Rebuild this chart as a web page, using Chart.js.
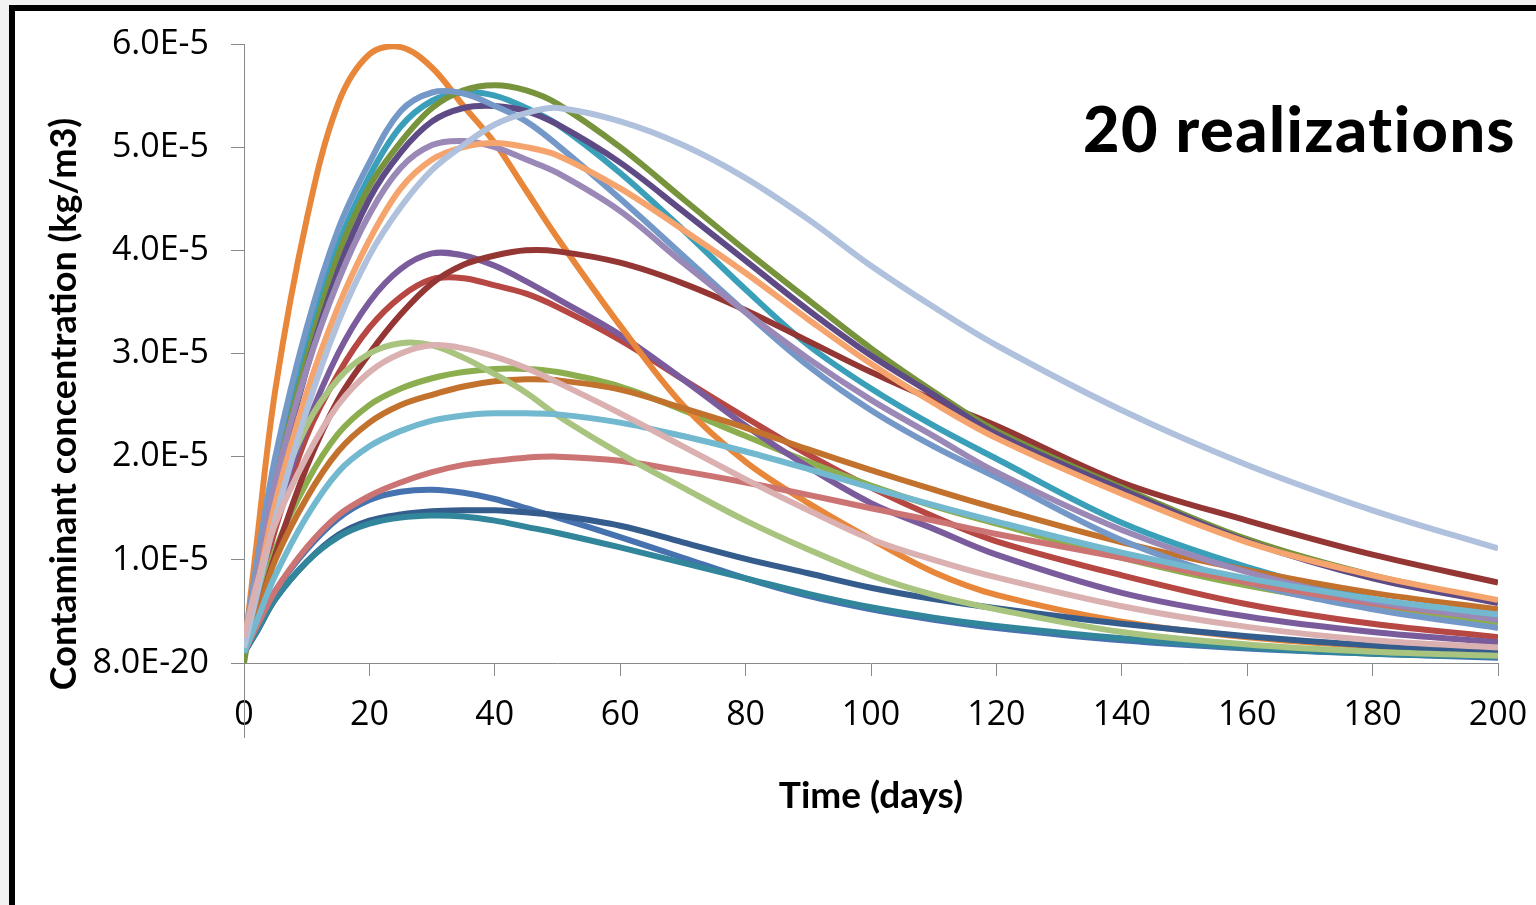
<!DOCTYPE html>
<html>

<head>
    <meta charset="utf-8">
    <title>Contaminant concentration - 20 realizations</title>
    <script src="https://cdn.jsdelivr.net/npm/chart.js"></script>
    <style>
        html, body {
            margin: 0;
            padding: 0;
        }

        body {
            width: 1536px;
            height: 905px;
            background: #f2f2f2;
            overflow: hidden;
            position: relative;
        }

        /* slide frame: thick black edge top and left, white inside */
        .frame {
            position: absolute;
            left: 9px;
            top: 5px;
            right: -20px;
            bottom: -20px;
            border-top: 6px solid #000;
            border-left: 6px solid #000;
            background: #fff;
        }

        #concChart {
            position: absolute;
            left: 0;
            top: 0;
        }
    </style>
</head>

<body>
    <div class="frame"></div>
    <canvas id="concChart" width="1536" height="905"></canvas>

    <script>
        // sample times (days) shared by every realization
        const days = [0, 2, 5, 10, 15, 20, 25, 30, 35, 40, 45, 50, 60, 70, 80, 90, 100, 110, 120, 140, 160, 180, 200];

        // concentrations in units of 1e-5 kg/m3
        const UNIT = 1e-5;
        const run01 = [0.1, 0.35, 0.7, 1.1, 1.4, 1.58, 1.66, 1.68, 1.65, 1.59, 1.5, 1.41, 1.22, 1.02, 0.82, 0.65, 0.52, 0.42, 0.34, 0.22, 0.14, 0.09, 0.05];
        const run02 = [0.15, 0.6, 1.3, 2.2, 2.8, 3.25, 3.55, 3.72, 3.73, 3.66, 3.58, 3.45, 3.13, 2.75, 2.38, 2.02, 1.7, 1.42, 1.18, 0.85, 0.57, 0.38, 0.25];
        const run03 = [0.1, 0.5, 1.1, 1.75, 2.22, 2.5, 2.66, 2.76, 2.82, 2.85, 2.85, 2.82, 2.68, 2.45, 2.2, 1.95, 1.72, 1.52, 1.35, 1.02, 0.75, 0.55, 0.39];
        const run04 = [0.15, 0.65, 1.4, 2.3, 3.0, 3.5, 3.82, 3.97, 3.95, 3.85, 3.7, 3.53, 3.18, 2.75, 2.3, 1.9, 1.55, 1.3, 1.05, 0.68, 0.45, 0.3, 0.2];
        const run05 = [0.15, 0.85, 1.85, 3.1, 4.05, 4.72, 5.2, 5.45, 5.53, 5.5, 5.38, 5.22, 4.75, 4.2, 3.62, 3.08, 2.66, 2.3, 1.98, 1.36, 0.93, 0.62, 0.42];
        const run06 = [0.1, 1.15, 2.65, 4.3, 5.42, 5.9, 5.97, 5.77, 5.4, 5.04, 4.58, 4.12, 3.27, 2.5, 1.95, 1.55, 1.2, 0.88, 0.66, 0.4, 0.25, 0.16, 0.1];
        const run07 = [0.1, 0.3, 0.62, 0.98, 1.24, 1.38, 1.44, 1.47, 1.48, 1.48, 1.46, 1.43, 1.33, 1.17, 1.01, 0.87, 0.73, 0.62, 0.53, 0.38, 0.26, 0.17, 0.11];
        const run08 = [0.1, 0.45, 1.05, 1.9, 2.55, 3.0, 3.38, 3.68, 3.86, 3.95, 4.0, 3.99, 3.88, 3.68, 3.42, 3.12, 2.82, 2.55, 2.3, 1.75, 1.38, 1.05, 0.78];
        const run09 = [0.0, 0.75, 1.75, 2.95, 3.95, 4.62, 5.05, 5.38, 5.55, 5.6, 5.55, 5.42, 5.0, 4.5, 4.0, 3.52, 3.05, 2.63, 2.25, 1.7, 1.2, 0.85, 0.6];
        const run10 = [0.1, 0.7, 1.65, 2.85, 3.8, 4.5, 4.95, 5.25, 5.38, 5.4, 5.35, 5.22, 4.85, 4.38, 3.9, 3.42, 2.98, 2.6, 2.22, 1.68, 1.18, 0.82, 0.58];
        const run11 = [0.1, 0.3, 0.62, 0.98, 1.22, 1.35, 1.41, 1.43, 1.42, 1.38, 1.32, 1.26, 1.12, 0.97, 0.82, 0.67, 0.54, 0.44, 0.36, 0.24, 0.15, 0.09, 0.06];
        const run12 = [0.1, 0.45, 1.0, 1.6, 2.05, 2.33, 2.5, 2.6, 2.68, 2.73, 2.75, 2.74, 2.65, 2.47, 2.28, 2.07, 1.87, 1.68, 1.5, 1.17, 0.9, 0.68, 0.52];
        const run13 = [0.15, 0.95, 2.0, 3.25, 4.2, 4.85, 5.35, 5.53, 5.52, 5.4, 5.25, 5.02, 4.5, 3.95, 3.4, 2.88, 2.45, 2.1, 1.8, 1.19, 0.78, 0.52, 0.34];
        const run14 = [0.1, 0.35, 0.7, 1.12, 1.43, 1.62, 1.75, 1.85, 1.92, 1.96, 1.99, 2.0, 1.96, 1.86, 1.75, 1.63, 1.5, 1.38, 1.25, 1.02, 0.78, 0.58, 0.43];
        const run15 = [0.1, 0.8, 1.55, 2.3, 2.75, 3.0, 3.1, 3.08, 2.96, 2.8, 2.62, 2.4, 2.03, 1.7, 1.38, 1.1, 0.85, 0.66, 0.52, 0.3, 0.18, 0.11, 0.07];
        const run16 = [0.15, 0.8, 1.75, 2.85, 3.7, 4.35, 4.8, 5.02, 5.06, 5.0, 4.88, 4.75, 4.38, 3.88, 3.4, 2.95, 2.55, 2.2, 1.85, 1.29, 0.88, 0.6, 0.42];
        const run17 = [0.1, 0.4, 0.85, 1.42, 1.85, 2.1, 2.25, 2.35, 2.4, 2.42, 2.42, 2.41, 2.33, 2.2, 2.05, 1.88, 1.7, 1.53, 1.37, 1.07, 0.82, 0.62, 0.47];
        const run18 = [0.15, 0.7, 1.55, 2.62, 3.45, 4.1, 4.6, 4.88, 5.0, 5.04, 5.0, 4.92, 4.6, 4.2, 3.78, 3.33, 2.9, 2.52, 2.18, 1.64, 1.17, 0.85, 0.61];
        const run19 = [0.15, 0.65, 1.4, 2.45, 3.3, 3.95, 4.42, 4.78, 5.02, 5.22, 5.33, 5.38, 5.25, 5.02, 4.7, 4.3, 3.85, 3.45, 3.08, 2.45, 1.92, 1.48, 1.11];
        const run20 = [0.25, 0.75, 1.35, 2.0, 2.5, 2.82, 3.0, 3.08, 3.05, 2.97, 2.86, 2.72, 2.42, 2.1, 1.78, 1.48, 1.2, 1.0, 0.83, 0.55, 0.35, 0.22, 0.15];

        const runs = [run01, run02, run03, run04, run05, run06, run07, run08, run09, run10,
            run11, run12, run13, run14, run15, run16, run17, run18, run19, run20];

        // office-style palette: base colours, darker shades, lighter tints
        const runColors = [
            "#4673AF", "#B64743", "#8CAE4F", "#7A5C9D", "#3A9FB8", "#E8873A",
            "#345C8C", "#943634", "#77943D", "#5E4A85", "#31869B", "#C3722E",
            "#7498C8", "#CC7473", "#A8C47E", "#9A88B7", "#72B8CF", "#F6A46E",
            "#AFC1DC", "#DAB0B0"
        ];

        const xTickLabels = ["0", "20", "40", "60", "80", "100", "120", "140", "160", "180", "200"];
        const yTickLabels = ["8.0E-20", "1.0E-5", "2.0E-5", "3.0E-5", "4.0E-5", "5.0E-5", "6.0E-5"];

        const AXIS_GREY = "#8a8a8a";
        const TITLE_FONT = "Lato, 'Open Sans', sans-serif";
        const TICK_FONT = "'Open Sans', Lato, sans-serif";
        Chart.defaults.font.family = TITLE_FONT;
        Chart.defaults.color = "#000";

        // y title sits lower than the axis middle, plus the big caption top right
        const captionPlugin = {
            id: "captions",
            afterDraw(chart) {
                const c = chart.ctx;
                const area = chart.chartArea;
                const xs = chart.scales.x;

                // the zero gridline runs on below the axis
                c.save();
                c.strokeStyle = AXIS_GREY;
                c.lineWidth = 1;
                const x0 = Math.round(xs.getPixelForValue(0)) + 0.5;
                c.beginPath();
                c.moveTo(x0, area.bottom);
                c.lineTo(x0, area.bottom + 75);
                c.stroke();

                c.fillStyle = "#000";
                c.font = "bold 36px " + TITLE_FONT;
                c.translate(64, 404);
                c.rotate(-Math.PI / 2);
                c.textAlign = "center";
                c.textBaseline = "middle";
                c.fillText("Contaminant concentration (kg/m3)", 0, 0);
                c.restore();

                c.save();
                c.fillStyle = "#000";
                c.font = "900 63px " + TITLE_FONT;
                c.letterSpacing = "1.5px";
                c.textAlign = "right";
                c.textBaseline = "alphabetic";
                c.fillText("20 realizations", 1516, 152);
                c.restore();
            }
        };

        const datasets = runs.map((vals, i) => ({
            label: "Realization " + (i + 1),
            data: vals.map((v, j) => ({ x: days[j], y: v * UNIT })),
            borderColor: runColors[i],
            borderWidth: 6,
            pointRadius: 0,
            fill: false,
            tension: 0.35,
            order: runs.length - i   // later realizations drawn on top
        }));

        new Chart(document.getElementById("concChart"), {
            type: "line",
            data: { datasets: datasets },
            options: {
                responsive: false,
                animation: false,
                layout: { padding: { left: 30, top: 44, right: 38, bottom: 0 } },
                plugins: {
                    legend: { display: false },
                    tooltip: { enabled: false }
                },
                scales: {
                    x: {
                        type: "linear",
                        min: 0,
                        max: 200,
                        // fixed band height; end labels may hang into the page margin
                        afterFit: (s) => {
                            s.height = 242;
                            s.paddingLeft = 0;
                            s.paddingRight = 0;
                        },
                        ticks: {
                            stepSize: 20,
                            font: { family: TICK_FONT, size: 34 },
                            padding: 19,
                            maxRotation: 0,
                            autoSkip: false,
                            callback: (v, i) => xTickLabels[i]
                        },
                        grid: {
                            drawOnChartArea: false,
                            drawTicks: true,
                            tickLength: 13,
                            color: AXIS_GREY
                        },
                        border: { color: AXIS_GREY, width: 1 },
                        title: {
                            display: true,
                            text: "Time (days)",
                            font: { size: 37, weight: "bold" },
                            padding: { top: 0, bottom: 87 }
                        }
                    },
                    y: {
                        min: 0,
                        max: 6 * UNIT,
                        afterFit: (s) => { s.width = 214; },
                        ticks: {
                            stepSize: UNIT,
                            font: { family: TICK_FONT, size: 34 },
                            padding: 22,
                            callback: (v, i) => yTickLabels[i]
                        },
                        grid: {
                            drawOnChartArea: false,
                            drawTicks: true,
                            tickLength: 13,
                            color: AXIS_GREY
                        },
                        border: { color: AXIS_GREY, width: 1 }
                    }
                }
            },
            plugins: [captionPlugin]
        });
    </script>
</body>

</html>
